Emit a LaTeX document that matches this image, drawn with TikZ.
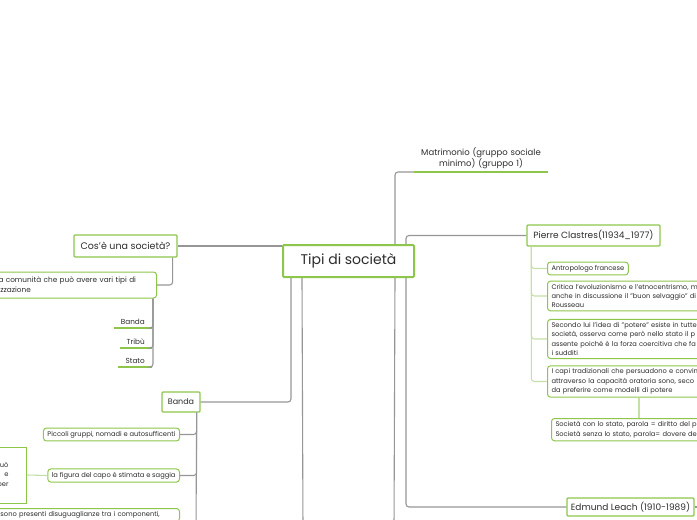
\documentclass[tikz,border=0pt]{standalone}
\usepackage{fontspec}
\setmainfont{Poppins}
\usepackage{tikz}
\usetikzlibrary{positioning, calc}
\definecolor{mmgreen}{RGB}{141,198,75}
\definecolor{mmlight}{RGB}{196,224,166}
\definecolor{mmgrey}{RGB}{150,150,150}
\definecolor{mmtext}{RGB}{45,45,45}
\tikzset{
  topic/.style={rectangle, draw=mmgreen, fill=white, line width=1.3pt, text=mmtext,
    inner sep=0pt, rounded corners=1pt},
  sub/.style={rectangle, draw=mmgreen, fill=white, line width=1pt, text=mmtext, align=left,
    font=\fontsize{6.7}{9.3}\selectfont, rounded corners=3pt, inner xsep=4pt, inner ysep=3pt},
  conn/.style={draw=mmgrey, line width=1.1pt, rounded corners=3pt},
  lconn/.style={draw=mmlight, line width=1.1pt, rounded corners=3pt}
}

\begin{document}
\begin{tikzpicture}[
  x=1pt, y=1pt,
  leaf/.style={rectangle, text=mmtext, font=\fontsize{7.3}{8}\selectfont, inner xsep=7pt, inner ysep=3pt},
  uline/.style={draw=mmgreen, line width=1.2pt}
]
\useasboundingbox (0,0) rectangle (697,-520);
\clip (0,0) rectangle (697,-520);

%--- ROOT ---
\node[topic, line width=2pt, minimum width=131pt, minimum height=32pt,
  font=\fontsize{14}{16}\selectfont] (root) at (348.5,-261) {Tipi di società};

%--- LEFT: Cos'è una società ---
\node[topic, minimum width=103pt, minimum height=22pt, font=\fontsize{9.5}{11}\selectfont]
  (cosa) at (125.5,-246) {Cos'è una società?};
\node[sub, anchor=east, text width=154pt, minimum height=26pt, font=\fontsize{7.3}{10}\selectfont]
  (defn) at (157,-285) {a comunità che può avere vari tipi di\\izzazione};
\node[leaf, anchor=south east] (lbanda) at (152,-328) {Banda};
\node[leaf, anchor=south east] (ltribu) at (152,-348) {Tribù};
\node[leaf, anchor=south east] (lstato) at (152,-367) {Stato};
\draw[uline] (lbanda.south west) -- (lbanda.south east);
\draw[uline] (ltribu.south west) -- (ltribu.south east);
\draw[uline] (lstato.south west) -- (lstato.south east);
\draw[conn] (cosa.east) -- (cosa.east -| root.west);
\draw[conn] ([xshift=-5pt]cosa.south east) |- (defn.east);
\draw[conn] ([xshift=-4pt]defn.south east) |- (lbanda.south east);
\draw[conn] ([xshift=-4pt]defn.south east) |- (ltribu.south east);
\draw[conn] ([xshift=-4pt]defn.south east) |- (lstato.south east);

%--- LEFT: Banda ---
\node[topic, minimum width=38pt, minimum height=20pt, font=\fontsize{8}{10}\selectfont]
  (banda) at (181,-402) {Banda};
\node[sub, anchor=east] (piccoli) at (180,-434.5) {Piccoli gruppi, nomadi e autosufficenti};
\node[sub, anchor=east] (figura)  at (180,-475.5) {la figura del capo è stimata e saggia};
\node[sub, anchor=north east, text width=175pt] (disug) at (180,-508)
  {sono presenti disuguaglianze tra i componenti,};
\node[sub, anchor=east, rounded corners=0pt, text width=30pt, inner xsep=18pt, align=right,
  minimum height=56pt] (capo) at (27,-475) {uò\\e\\per};
\coordinate (bandaend) at (196,-530);
\draw[conn] ([xshift=9pt]root.south west) |- (banda.east);
\draw[conn] ([xshift=-4pt]banda.south east) -- (bandaend);
\draw[conn] ([xshift=-4pt]banda.south east) |- (piccoli.east);
\draw[conn] ([xshift=-4pt]banda.south east) |- (figura.east);
\draw[lconn] (figura.west) -- (capo.east);

%--- branches leaving the page ---
\coordinate (downA) at (303,-530);
\coordinate (downB) at (394,-530);
\draw[conn] ([xshift=20pt]root.south west) -- (downA);
\draw[conn] ([xshift=-20pt]root.south east) -- (downB);

%--- RIGHT: Matrimonio ---
\node[leaf, anchor=south, text width=120pt, align=center, font=\fontsize{8.5}{11}\selectfont]
  (matr) at (481,-172) {Matrimonio (gruppo sociale\\minimo) (gruppo 1)};
\draw[uline] (matr.south west) -- (matr.south east);
\draw[conn] ([xshift=-20pt]root.north east) |- (matr.south west);

%--- RIGHT: Pierre Clastres ---
\node[topic, minimum width=133pt, minimum height=21pt, font=\fontsize{9}{11}\selectfont]
  (pierre) at (593.5,-235.5) {Pierre Clastres(11934\_1977)};
\node[sub, anchor=west] (antro) at (547,-268.5) {Antropologo francese};
\node[sub, anchor=west, text width=200pt] (critica) at (547,-296)
  {Critica l'evoluzionismo e l'etnocentrismo, m\\anche in discussione il "buon selvaggio" di\\Rousseau};
\node[sub, anchor=west, text width=200pt] (secondo) at (547,-339)
  {Secondo lui l'idea di "potere" esiste in tutte\\società, osserva come però nello stato il p\\assente poiché è la forza coercitiva che fa\\i sudditi};
\node[sub, anchor=west, text width=200pt] (capi) at (547,-381.5)
  {I capi tradizionali che persuadono e convin\\attraverso la capacità oratoria sono, seco\\da preferire come modelli di potere};
\node[sub, anchor=north west, text width=200pt] (socst) at (551,-418)
  {Società con lo stato, parola = diritto del p\\Società senza lo stato, parola= dovere de};
\draw[conn] ([xshift=-9pt]root.north east) |- (pierre.west);
\draw[lconn] ([xshift=5pt]pierre.south west) |- (antro.west);
\draw[lconn] ([xshift=5pt]pierre.south west) |- (critica.west);
\draw[lconn] ([xshift=5pt]pierre.south west) |- (secondo.west);
\draw[lconn] ([xshift=5pt]pierre.south west) |- (capi.west);
\draw[lconn] ([xshift=92pt]capi.south west) -- ([xshift=88pt]socst.north west);

%--- RIGHT: Edmund Leach ---
\node[topic, minimum width=127pt, minimum height=18pt, font=\fontsize{9}{11}\selectfont]
  (edmund) at (630.5,-507) {Edmund Leach (1910-1989)};
\coordinate (edmout) at (710,-507);
\draw[conn] ([xshift=-9pt]root.south east) |- (edmund.west);
\draw[conn] (edmund.east) -- (edmout);
\end{tikzpicture}
\end{document}
